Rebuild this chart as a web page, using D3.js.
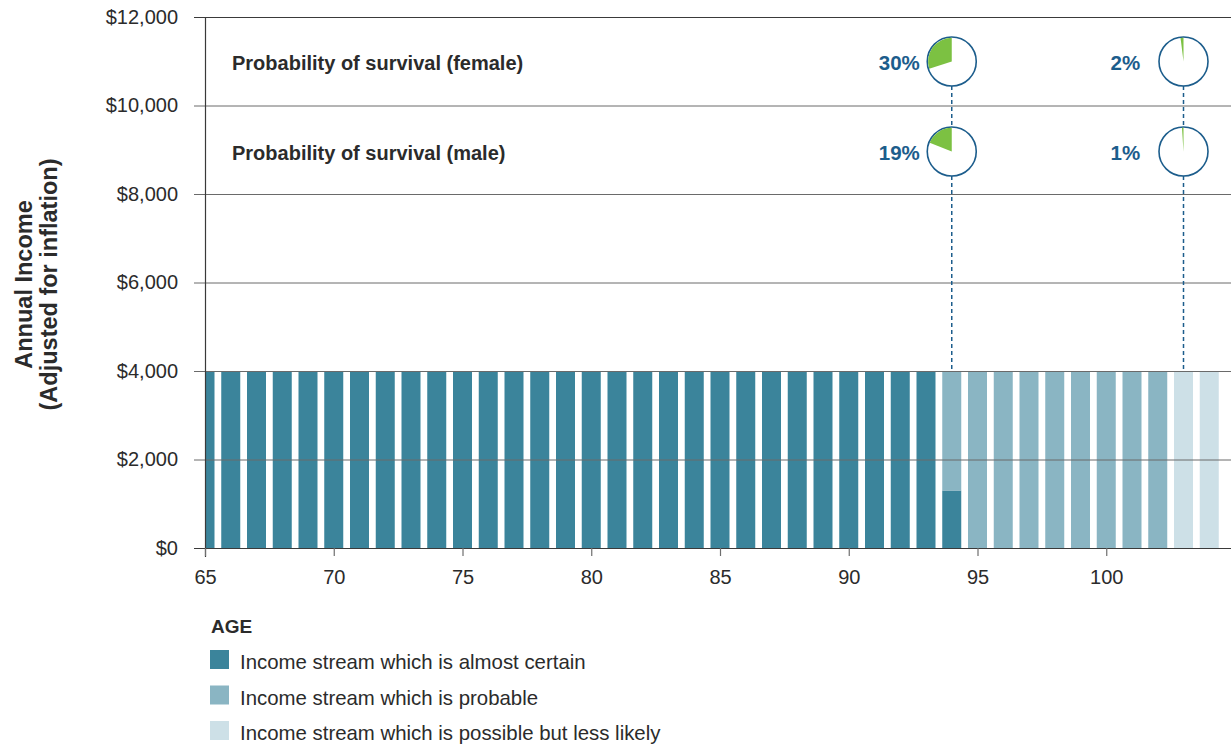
<!DOCTYPE html>
<html>
<head>
<meta charset="utf-8">
<script src="https://cdn.jsdelivr.net/npm/d3@7"></script>
<style>
  html, body { margin: 0; padding: 0; background: #ffffff; }
  svg { display: block; font-family: "Liberation Sans", Arial, Helvetica, sans-serif; }
</style>
</head>
<body>
<svg id="chart" width="1231" height="747"></svg>
<script>
// Ages shown along the horizontal axis (one bar per year)
const ages = [65, 66, 67, 68, 69, 70, 71, 72, 73, 74, 75, 76, 77, 78, 79, 80, 81, 82, 83, 84,
              85, 86, 87, 88, 89, 90, 91, 92, 93, 94, 95, 96, 97, 98, 99, 100, 101, 102, 103, 104];

// Annual income split by how likely the stream is to be received
const certainIncome = [4000, 4000, 4000, 4000, 4000, 4000, 4000, 4000, 4000, 4000,
                       4000, 4000, 4000, 4000, 4000, 4000, 4000, 4000, 4000, 4000,
                       4000, 4000, 4000, 4000, 4000, 4000, 4000, 4000, 4000, 1300,
                       0, 0, 0, 0, 0, 0, 0, 0, 0, 0];
const probableIncome = [0, 0, 0, 0, 0, 0, 0, 0, 0, 0,
                        0, 0, 0, 0, 0, 0, 0, 0, 0, 0,
                        0, 0, 0, 0, 0, 0, 0, 0, 0, 2700,
                        4000, 4000, 4000, 4000, 4000, 4000, 4000, 4000, 0, 0];
const possibleIncome = [0, 0, 0, 0, 0, 0, 0, 0, 0, 0,
                        0, 0, 0, 0, 0, 0, 0, 0, 0, 0,
                        0, 0, 0, 0, 0, 0, 0, 0, 0, 0,
                        0, 0, 0, 0, 0, 0, 0, 0, 4000, 4000];

// Axis ticks
const yTicks = [0, 2000, 4000, 6000, 8000, 10000, 12000];
const xTicks = [65, 70, 75, 80, 85, 90, 95, 100];

// Survival probabilities marked above the bars
const survivalAges = [94, 103];
const femaleSurvival = [0.30, 0.02];
const maleSurvival = [0.19, 0.01];
const survivalRows = ["Probability of survival (female)", "Probability of survival (male)"];

// Legend entries
const seriesKeys = ["certain", "probable", "possible"];
const seriesLabels = ["Income stream which is almost certain",
                      "Income stream which is probable",
                      "Income stream which is possible but less likely"];
const seriesColors = ["#3b849b", "#8ab5c3", "#cde0e7"];

const svg = d3.select("#chart");
const W = 1231;
const plotLeft = 205, plotTop = 17, plotBottom = 548, gridLeft = 194;

const x = d3.scaleLinear().domain([65, 105]).range([plotLeft, plotLeft + 40 * 25.75]);
const y = d3.scaleLinear().domain([0, 12000]).range([plotBottom, plotTop]);
const color = d3.scaleOrdinal().domain(seriesKeys).range(seriesColors);
const barWidth = 19;

// Table for the stack layout
const rows = ages.map((a, i) => ({
  age: a,
  certain: certainIncome[i],
  probable: probableIncome[i],
  possible: possibleIncome[i]
}));
const stacked = d3.stack().keys(seriesKeys)(rows);

// Bars, clipped to the plot area
svg.append("defs").append("clipPath").attr("id", "plot-clip")
  .append("rect")
  .attr("x", plotLeft).attr("y", 0)
  .attr("width", W - plotLeft).attr("height", plotBottom + 1);

const barLayer = svg.append("g").attr("clip-path", "url(#plot-clip)");
barLayer.selectAll("g.series")
  .data(stacked)
  .join("g")
  .attr("class", "series")
  .attr("fill", d => color(d.key))
  .selectAll("rect")
  .data(d => d.filter(s => s[1] > s[0]))
  .join("rect")
  .attr("x", d => x(d.data.age) - barWidth / 2)
  .attr("width", barWidth)
  .attr("y", d => y(d[1]))
  .attr("height", d => y(d[0]) - y(d[1]));

// Horizontal gridlines with dollar labels
const yAxis = d3.axisLeft(y)
  .tickValues(yTicks)
  .tickSize(-(W - gridLeft))
  .tickPadding(16)
  .tickFormat(d => "$" + d3.format(",")(d));

const yAxisG = svg.append("g")
  .attr("transform", `translate(${gridLeft},0)`)
  .call(yAxis);
yAxisG.select(".domain").remove();
yAxisG.selectAll(".tick line")
  .attr("stroke", d => (y(d) % 1 === 0 ? "#3a3a3a" : "#6a6a6a"))
  .attr("stroke-width", 1);
yAxisG.selectAll(".tick text")
  .attr("fill", "#2b2b2b")
  .style("font-size", "20px")
  .style("font-family", "'Liberation Sans', Arial, sans-serif");

// Vertical axis line
svg.append("line")
  .attr("x1", plotLeft + 0.5).attr("x2", plotLeft + 0.5)
  .attr("y1", plotTop).attr("y2", plotBottom + 9)
  .attr("stroke", "#3a3a3a").attr("stroke-width", 1.2);

// Age axis
const xAxis = d3.axisBottom(x)
  .tickValues(xTicks)
  .tickSize(8)
  .tickPadding(14)
  .tickFormat(d3.format("d"));
const xAxisG = svg.append("g")
  .attr("transform", `translate(0,${plotBottom})`)
  .call(xAxis);
xAxisG.select(".domain").remove();
xAxisG.selectAll(".tick line").attr("stroke", "#6e6e6e").attr("stroke-width", 1.2);
xAxisG.selectAll(".tick text")
  .attr("fill", "#2b2b2b")
  .style("font-size", "20px")
  .style("font-family", "'Liberation Sans', Arial, sans-serif");

// Y axis title
const yTitle = svg.append("text")
  .attr("transform", `translate(0,${(plotTop + plotBottom) / 2 + 2}) rotate(-90)`)
  .attr("text-anchor", "middle")
  .attr("fill", "#2b2b2b")
  .style("font-size", "23.5px")
  .style("font-weight", "bold");
yTitle.append("tspan").attr("x", 0).attr("y", 32).text("Annual Income");
yTitle.append("tspan").attr("x", 0).attr("y", 57).text("(Adjusted for inflation)");

// Survival probability rows
const pieRadius = 24.5;
const rowCenters = [61.5, 151.5];
const survivalSets = [femaleSurvival, maleSurvival];
const blue = "#1c5d8c";
const arc = d3.arc().innerRadius(0).outerRadius(pieRadius - 0.8);

svg.selectAll("text.row-label")
  .data(survivalRows)
  .join("text")
  .attr("class", "row-label")
  .attr("x", 232)
  .attr("y", (d, i) => rowCenters[i] + 8)
  .attr("fill", "#2b2b2b")
  .style("font-size", "20px")
  .style("font-weight", "bold")
  .text(d => d);

// Dashed connectors from the pies down to the bars
survivalAges.forEach(age => {
  const cx = x(age);
  svg.append("line")
    .attr("x1", cx).attr("x2", cx)
    .attr("y1", rowCenters[0] + pieRadius).attr("y2", rowCenters[1] - pieRadius)
    .attr("stroke", blue).attr("stroke-width", 1.5).attr("stroke-dasharray", "4,3");
  svg.append("line")
    .attr("x1", cx).attr("x2", cx)
    .attr("y1", rowCenters[1] + pieRadius).attr("y2", y(4000))
    .attr("stroke", blue).attr("stroke-width", 1.5).attr("stroke-dasharray", "4,3");
});

survivalSets.forEach((values, r) => {
  values.forEach((p, i) => {
    const cx = x(survivalAges[i]);
    const cy = rowCenters[r];
    const g = svg.append("g").attr("transform", `translate(${cx},${cy})`);
    g.append("circle")
      .attr("r", pieRadius)
      .attr("fill", "#ffffff")
      .attr("stroke", blue)
      .attr("stroke-width", 1.6);
    g.append("path")
      .attr("d", arc({ startAngle: -p * 2 * Math.PI, endAngle: 0 }))
      .attr("fill", "#7cc142");
    svg.append("text")
      .attr("x", cx - 73)
      .attr("y", cy + 8)
      .attr("fill", blue)
      .style("font-size", "20.5px")
      .style("font-weight", "bold")
      .text(d3.format(".0%")(p));
  });
});

// Legend
const legend = svg.append("g");
legend.append("text")
  .attr("x", 211).attr("y", 633)
  .attr("fill", "#2b2b2b")
  .style("font-size", "19px")
  .style("font-weight", "bold")
  .text("AGE");

const items = legend.selectAll("g.item")
  .data(seriesKeys)
  .join("g")
  .attr("class", "item")
  .attr("transform", (d, i) => `translate(210,${650 + i * 35.5})`);
items.append("rect")
  .attr("width", 19).attr("height", 19)
  .attr("fill", d => color(d));
items.append("text")
  .attr("x", 30).attr("y", 19)
  .attr("fill", "#2b2b2b")
  .style("font-size", "20.4px")
  .text((d, i) => seriesLabels[i]);
</script>
</body>
</html>
